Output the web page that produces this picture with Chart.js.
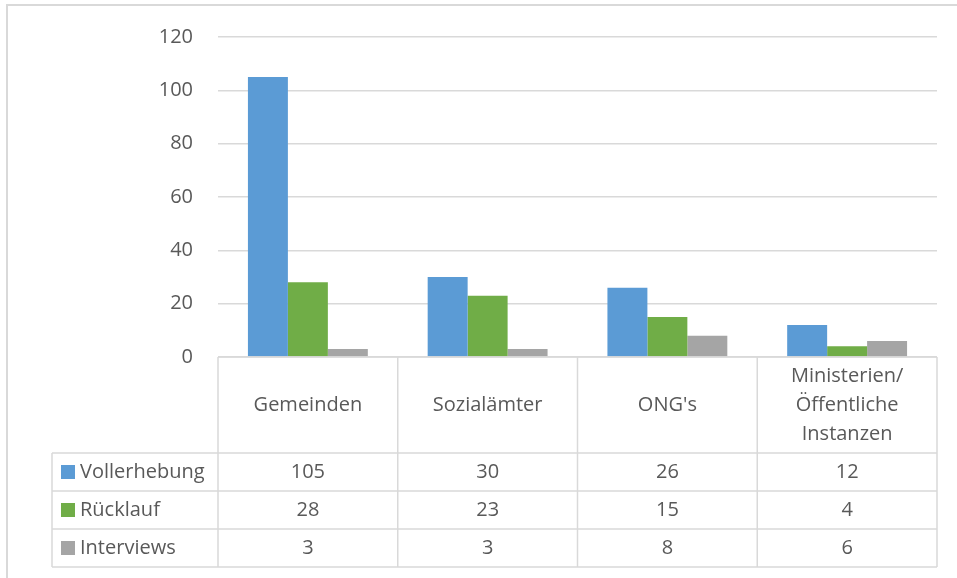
<!DOCTYPE html>
<html>
<head>
    <meta charset="utf-8">
    <title>Vollerhebung, Rücklauf und Interviews</title>
    <script src="https://cdnjs.cloudflare.com/ajax/libs/Chart.js/4.4.1/chart.umd.min.js"></script>
    <style>
        body { margin: 0; background: white; }
        #wrap { width: 957px; height: 578px; }
    </style>
</head>
<body>
    <div id="wrap"><canvas id="chart" width="957" height="578"></canvas></div>

    <script>
        // Data
        const categories = ['Gemeinden', 'Sozialämter', "ONG's", ['Ministerien/', 'Öffentliche', 'Instanzen']];
        const seriesNames = ['Vollerhebung', 'Rücklauf', 'Interviews'];
        const vollerhebung = [105, 30, 26, 12];
        const ruecklauf = [28, 23, 15, 4];
        const interviews = [3, 3, 8, 6];
        const yTicks = [0, 20, 40, 60, 80, 100, 120];

        const colors = ['#5B9BD5', '#70AD47', '#A5A5A5'];
        const textColor = '#595959';
        const lineColor = '#d9d9d9';
        const fontFamily = '"Open Sans", sans-serif';
        const fontSize = 20;

        // Draws the frame and the data table under the plot
        const tablePlugin = {
            id: 'dataTable',
            beforeDraw(chart) {
                const ctx = chart.ctx;
                ctx.save();
                ctx.strokeStyle = lineColor;
                ctx.lineWidth = 2;
                ctx.beginPath();
                ctx.moveTo(6, 5);
                ctx.lineTo(chart.width, 5);
                ctx.moveTo(7, 5);
                ctx.lineTo(7, chart.height);
                ctx.stroke();
                ctx.restore();
            },
            afterDraw(chart) {
                const ctx = chart.ctx;
                const area = chart.chartArea;
                const xs = chart.scales.x;
                const n = categories.length;
                const colW = (area.right - area.left) / n;
                const top = area.bottom;
                const headerBottom = top + 96;
                const rowH = 38;
                const tableLeft = 52;
                const rows = chart.data.datasets;
                const bottom = headerBottom + rowH * rows.length;

                ctx.save();
                ctx.strokeStyle = lineColor;
                ctx.lineWidth = 1.5;
                ctx.beginPath();
                // header lines
                ctx.moveTo(area.left, top);
                ctx.lineTo(area.right, top);
                for (let i = 0; i <= n; i++) {
                    const x = area.left + colW * i;
                    ctx.moveTo(x, top);
                    ctx.lineTo(x, bottom);
                }
                // row lines
                for (let r = 0; r <= rows.length; r++) {
                    const y = headerBottom + rowH * r;
                    ctx.moveTo(tableLeft, y);
                    ctx.lineTo(area.right, y);
                }
                ctx.moveTo(tableLeft, headerBottom);
                ctx.lineTo(tableLeft, bottom);
                ctx.stroke();

                ctx.fillStyle = textColor;
                ctx.font = fontSize + 'px ' + fontFamily;
                ctx.textBaseline = 'middle';
                ctx.textAlign = 'center';

                // category headers
                const lineH = 29;
                categories.forEach((c, i) => {
                    const lines = Array.isArray(c) ? c : [c];
                    const cx = xs.getPixelForTick(i);
                    const cy = (top + headerBottom) / 2;
                    lines.forEach((t, k) => {
                        ctx.fillText(t, cx, cy + (k - (lines.length - 1) / 2) * lineH);
                    });
                });

                // series rows
                rows.forEach((ds, r) => {
                    const cy = headerBottom + rowH * r + rowH / 2;
                    ctx.fillStyle = ds.backgroundColor;
                    ctx.fillRect(61, cy - 7, 14, 14);
                    ctx.fillStyle = textColor;
                    ctx.textAlign = 'left';
                    ctx.fillText(ds.label, 80, cy);
                    ctx.textAlign = 'center';
                    ds.data.forEach((v, i) => {
                        ctx.fillText(String(v), xs.getPixelForTick(i), cy);
                    });
                });
                ctx.restore();
            }
        };

        new Chart(document.getElementById('chart'), {
            type: 'bar',
            data: {
                labels: categories,
                datasets: [
                    { label: seriesNames[0], data: vollerhebung, backgroundColor: colors[0] },
                    { label: seriesNames[1], data: ruecklauf, backgroundColor: colors[1] },
                    { label: seriesNames[2], data: interviews, backgroundColor: colors[2] }
                ]
            },
            options: {
                responsive: false,
                animation: false,
                layout: { padding: { top: 30, right: 20, bottom: 221, left: 0 } },
                datasets: {
                    bar: { barPercentage: 1, categoryPercentage: 0.667 }
                },
                plugins: {
                    legend: { display: false },
                    tooltip: { enabled: false }
                },
                scales: {
                    x: { display: false },
                    y: {
                        min: 0,
                        max: 120,
                        afterFit: s => { s.width = 218; },
                        afterBuildTicks: s => { s.ticks = yTicks.map(v => ({ value: v })); },
                        border: { display: false },
                        grid: { color: lineColor, lineWidth: 1.5, drawTicks: false },
                        ticks: {
                            padding: 25,
                            color: textColor,
                            font: { family: fontFamily, size: fontSize }
                        }
                    }
                }
            },
            plugins: [tablePlugin]
        });
    </script>
</body>
</html>
